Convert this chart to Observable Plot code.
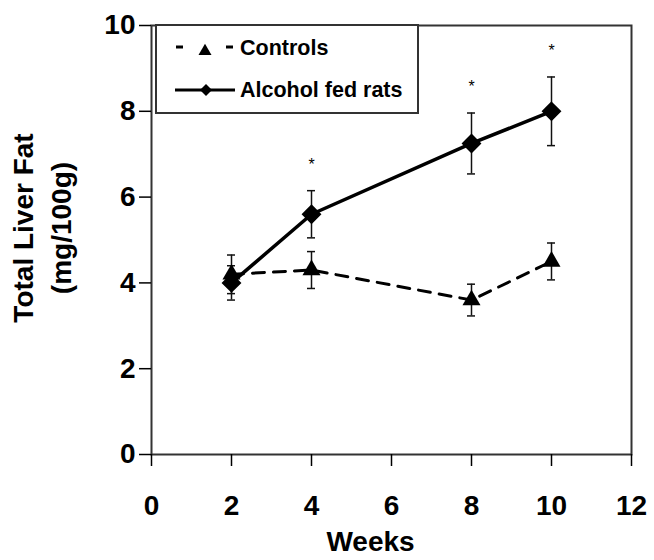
<!DOCTYPE html>
<html><head><meta charset="utf-8">
<script src="https://cdn.jsdelivr.net/npm/d3@7"></script>
<script src="https://cdn.jsdelivr.net/npm/@observablehq/plot@0.6"></script>
<style>body{margin:0;background:#fff}</style>
</head><body><div id="chart"></div>
<script>
const weeks = [2, 4, 8, 10];
const seriesNames = ["Controls", "Alcohol fed rats"];
const controlsMean = [4.2, 4.3, 3.6, 4.5];
const controlsSE = [0.45, 0.43, 0.37, 0.43];
const alcoholMean = [4.0, 5.6, 7.25, 8.0];
const alcoholSE = [0.4, 0.55, 0.71, 0.8];
const significant = [false, true, true, true];
const xTicks = [0, 2, 4, 6, 8, 10, 12];
const yTicks = [0, 2, 4, 6, 8, 10];
const xLabel = "Weeks";
const yLabel = ["Total Liver Fat", "(mg/100g)"];
const starLabel = "*";

const controls = weeks.map((w, i) => ({week: w, mean: controlsMean[i], se: controlsSE[i], series: seriesNames[0], sig: false}));
const alcohol = weeks.map((w, i) => ({week: w, mean: alcoholMean[i], se: alcoholSE[i], series: seriesNames[1], sig: significant[i]}));
const all = controls.concat(alcohol);
const capHalf = 0.1;

const font = "'Liberation Sans', Arial, Helvetica, sans-serif";

const plot = Plot.plot({
  width: 654, height: 560,
  marginLeft: 151, marginRight: 23, marginTop: 25, marginBottom: 106,
  x: {domain: [0, 12]},
  y: {domain: [0, 10]},
  style: {fontFamily: font, background: "white", color: "black"},
  marks: [
    Plot.frame({stroke: "#333", strokeWidth: 2}),
    Plot.axisX(xTicks, {tickSize: 12, tickPadding: 29, fontSize: 28, fontWeight: "bold", label: null, strokeWidth: 1.5, tickFormat: d => String(d)}),
    Plot.axisY(yTicks, {tickSize: 12, tickPadding: 4, fontSize: 28, fontWeight: "bold", label: null, strokeWidth: 1.5, tickFormat: d => String(d)}),
    Plot.line(controls, {x: "week", y: "mean", stroke: "black", strokeWidth: 3, strokeDasharray: "12,9"}),
    Plot.line(alcohol, {x: "week", y: "mean", stroke: "black", strokeWidth: 3.5}),
    Plot.ruleX(all, {x: "week", y1: d => d.mean - d.se, y2: d => d.mean + d.se, stroke: "#111", strokeWidth: 1.5}),
    Plot.ruleY(all, {y: d => d.mean + d.se, x1: d => d.week - capHalf, x2: d => d.week + capHalf, stroke: "#111", strokeWidth: 1.5}),
    Plot.ruleY(all, {y: d => d.mean - d.se, x1: d => d.week - capHalf, x2: d => d.week + capHalf, stroke: "#111", strokeWidth: 1.5}),
    Plot.dot(controls, {x: "week", y: "mean", symbol: "triangle", r: 6.7, fill: "black", stroke: "none"}),
    Plot.dot(alcohol, {x: "week", y: "mean", symbol: "diamond2", r: 8, fill: "black", stroke: "black"}),
    Plot.text(alcohol.filter(d => d.sig), {x: "week", y: d => d.mean + d.se, text: () => starLabel, dy: -26, fontSize: 16, fill: "black"}),
    Plot.text([xLabel], {frameAnchor: "bottom", text: d => d, textAnchor: "middle", lineAnchor: "middle", dx: -21, dy: 88, fontSize: 28, fontWeight: "bold", fill: "black"}),
    Plot.text([yLabel.join("\n")], {frameAnchor: "left", text: d => d, textAnchor: "middle", lineAnchor: "middle", rotate: -90, dx: -112, dy: -12, fontSize: 28, fontWeight: "bold", lineHeight: 1.38, fill: "black"})
  ]
});

document.getElementById("chart").appendChild(plot);

// Legend inside the plot area
const svg = d3.select(plot);
const lg = svg.append("g").attr("font-family", font).attr("text-anchor", "start");
lg.append("rect").attr("x", 156).attr("y", 25).attr("width", 262).attr("height", 88)
  .attr("fill", "white").attr("stroke", "#333").attr("stroke-width", 2);
// Controls row
lg.append("line").attr("x1", 176).attr("x2", 233).attr("y1", 47).attr("y2", 47)
  .attr("stroke", "black").attr("stroke-width", 3).attr("stroke-dasharray", "7,43");
lg.append("path").attr("d", d3.symbol(d3.symbolTriangle, 73)()).attr("transform", "translate(205,51.2)").attr("fill", "black");
lg.append("text").attr("x", 240).attr("y", 55).attr("text-anchor", "start").attr("font-size", 21.5).attr("font-weight", "bold").attr("fill", "black").text(seriesNames[0]);
// Alcohol row
lg.append("line").attr("x1", 175).attr("x2", 235).attr("y1", 90).attr("y2", 90)
  .attr("stroke", "black").attr("stroke-width", 3);
lg.append("path").attr("d", "M206,84L212,90L206,96L200,90Z").attr("fill", "black");
lg.append("text").attr("x", 240).attr("y", 97).attr("text-anchor", "start").attr("font-size", 21.5).attr("font-weight", "bold").attr("fill", "black").text(seriesNames[1]);
</script>
</body></html>
